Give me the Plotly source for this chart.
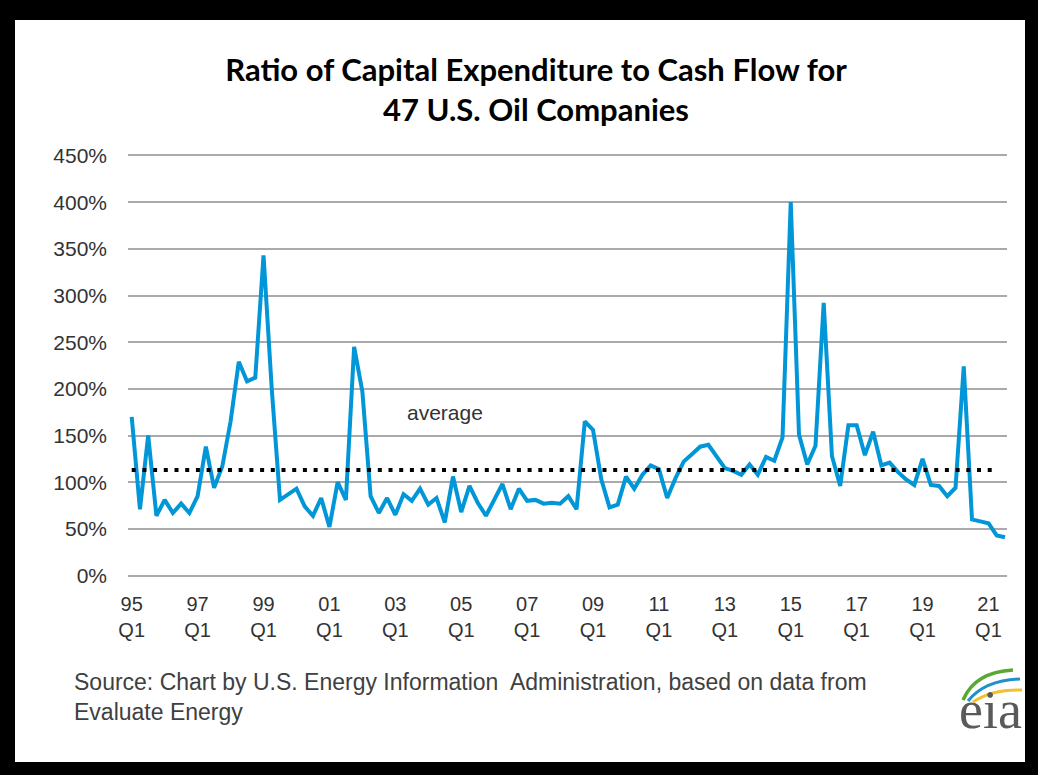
import plotly.graph_objects as go

# ---- data ----
years = list(range(1995, 2022))
quarters = [f"{y}Q{q}" for y in years for q in (1, 2, 3, 4)][:107]

ratio_pct = [
    170, 71, 150, 64, 81, 67, 77, 67, 85, 138,
    94, 117, 165, 229, 208, 212, 343, 200, 81, 87,
    93, 74, 64, 83, 52, 100, 81, 245, 197, 85,
    67, 83, 65, 87, 80, 93, 76, 83, 57, 106,
    68, 96, 78, 64, 81, 98, 71, 93, 80, 81,
    77, 78, 77, 85, 71, 165, 156, 103, 73, 76,
    106, 93, 108, 118, 114, 83, 104, 122, 130, 138,
    140, 127, 115, 112, 108, 119, 108, 127, 123, 148,
    400, 151, 119, 139, 292, 128, 96, 161, 161, 129,
    154, 118, 121, 111, 103, 97, 125, 97, 96, 85,
    94, 224, 60, 58, 56, 43, 41,
]
average_pct = 113

tick_quarters = [f"{y}Q1" for y in range(1995, 2022, 2)]
tick_labels = [f"{str(y)[2:]}<br>Q1" for y in range(1995, 2022, 2)]
y_ticks = list(range(0, 451, 50))
y_tick_labels = [f"{v}%" for v in y_ticks]

title_text = "Ratio of Capital Expenditure to Cash Flow for<br>47 U.S. Oil Companies"
source_text = ("Source: Chart by U.S. Energy Information  Administration, based on data from"
               "<br>Evaluate Energy")

# ---- geometry helpers (figure pixels -> paper coords) ----
W, H = 1038, 775
L, R, T, B = 128, 31, 154, 198
PW, PH = W - L - R, H - T - B


def px(x):
    return (x - L) / PW


def py(y):
    return (H - B - y) / PH


fig = go.Figure()

fig.add_trace(go.Scatter(
    x=quarters, y=ratio_pct, mode="lines",
    line=dict(color="#0096d7", width=4),
    name="ratio", showlegend=False, hoverinfo="x+y",
))
fig.add_trace(go.Scatter(
    x=quarters[:-1], y=[average_pct] * (len(quarters) - 1), mode="lines",
    line=dict(color="black", width=4, dash="4px,6.7px"),
    name="average", showlegend=False,
))

# white card on black frame
shapes = [dict(type="rect", xref="paper", yref="paper", layer="below",
               x0=px(15), x1=px(1025), y0=py(762), y1=py(20),
               fillcolor="white", line=dict(width=0))]


# eia logo swooshes
def arc(x0, y0, cx, cy, x1, y1):
    return f"M {px(x0)},{py(y0)} Q {px(cx)},{py(cy)} {px(x1)},{py(y1)}"


for (a, c, b, col, w) in [
    ((963, 700), (975, 672), (1013, 670), "#5aa832", 3.5),
    ((968, 701), (985, 680), (1020, 679), "#1f8fce", 3),
    ((973, 702), (992, 689), (1022, 690), "#f2c12e", 3),
]:
    shapes.append(dict(type="path", xref="paper", yref="paper",
                       path=arc(a[0], a[1], c[0], c[1], b[0], b[1]),
                       line=dict(color=col, width=w)))

fig.update_layout(
    width=W, height=H,
    margin=dict(l=L, r=R, t=T, b=B),
    paper_bgcolor="black",
    plot_bgcolor="rgba(0,0,0,0)",
    shapes=shapes,
    title=dict(text=title_text, x=536 / W, xref="container", xanchor="center",
               y=1 - 81 / H, yref="container", yanchor="middle",
               font=dict(family="Lato", size=31, color="black", weight="bold")),
    xaxis=dict(type="category", range=[-0.45, 106.25],
               tickmode="array", tickvals=tick_quarters, ticktext=tick_labels,
               showgrid=False, zeroline=False, showline=False, ticks="",
               ticklabelstandoff=13,
               tickfont=dict(family="Liberation Sans", size=20, color="#333333"),
               tickangle=0),
    yaxis=dict(range=[-1.6, 451.6], tickmode="array", tickvals=y_ticks, ticktext=y_tick_labels,
               showgrid=True, gridcolor="#aaaaaa", gridwidth=1.5,
               zeroline=False, showline=False, ticks="",
               ticklabelstandoff=20,
               tickfont=dict(family="Liberation Sans", size=21, color="#333333")),
    annotations=[
        dict(text="average", x=38, y=175, xref="x", yref="y", showarrow=False,
             font=dict(family="Liberation Sans", size=21, color="#333333")),
        dict(text=source_text, x=px(72), y=py(697), xref="paper", yref="paper",
             xanchor="left", yanchor="middle", align="left", showarrow=False,
             font=dict(family="Liberation Sans", size=23, color="#404040")),
        dict(text="eia", x=px(990), y=py(710), xref="paper", yref="paper",
             xanchor="center", yanchor="middle", showarrow=False,
             font=dict(family="Liberation Serif", size=54, color="#5a5a5a")),
    ],
)

fig.write_html(
    "out.html",
    config=dict(displayModeBar=False),
    post_script="document.body.style.margin='0';document.body.style.background='black';",
)
